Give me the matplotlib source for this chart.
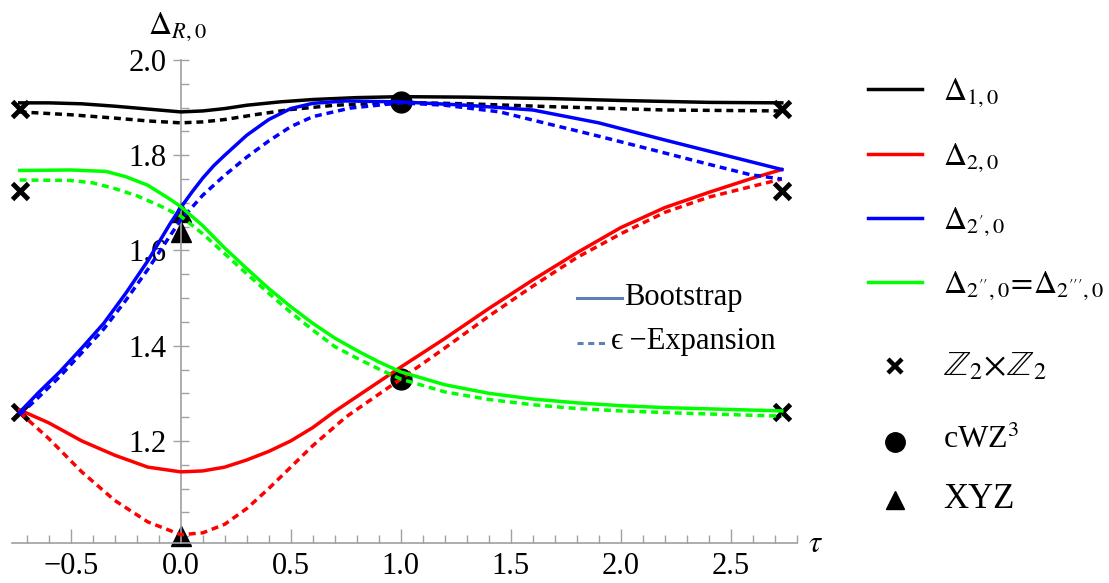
#!/usr/bin/env python3

import numpy as np
import matplotlib.pyplot as plt
from matplotlib.ticker import MultipleLocator, FixedLocator

plt.rcParams['font.family'] = ['Liberation Serif', 'DejaVu Serif']
plt.rcParams['mathtext.fontset'] = 'stix'

# Delta_{1,0}
tau_d1_bs = [-0.732, -0.6, -0.45, -0.3, -0.15, 0.0, 0.1, 0.2, 0.3, 0.45, 0.6, 0.8, 1.0, 1.3, 1.68, 2.0, 2.4, 2.732]
d1_bs = [1.910, 1.910, 1.908, 1.903, 1.897, 1.891, 1.893, 1.898, 1.905, 1.912, 1.917, 1.921, 1.923, 1.922, 1.919, 1.915, 1.911, 1.910]
tau_d1_ep = [-0.732, -0.5, -0.3, -0.15, 0.0, 0.1, 0.2, 0.35, 0.5, 0.7, 1.0, 1.3, 1.68, 2.2, 2.732]
d1_ep = [1.891, 1.885, 1.878, 1.872, 1.868, 1.870, 1.875, 1.886, 1.896, 1.905, 1.911, 1.908, 1.902, 1.895, 1.893]

# Delta_{2,0}
tau_d2_bs = [-0.732, -0.6, -0.45, -0.3, -0.15, 0.0, 0.1, 0.2, 0.3, 0.4, 0.5, 0.6, 0.7, 0.8, 0.9, 1.0,
             1.2, 1.4, 1.6, 1.8, 2.0, 2.2, 2.4, 2.6, 2.732]
d2_bs = [1.265, 1.238, 1.200, 1.170, 1.145, 1.135, 1.137, 1.145, 1.160, 1.178, 1.200, 1.228, 1.262, 1.293, 1.324, 1.355,
         1.415, 1.478, 1.538, 1.595, 1.648, 1.690, 1.722, 1.752, 1.770]
tau_d2_ep = [-0.732, -0.6, -0.45, -0.3, -0.15, 0.0, 0.1, 0.2, 0.3, 0.4, 0.5, 0.6, 0.75, 1.0,
             1.2, 1.4, 1.6, 1.8, 2.0, 2.2, 2.4, 2.6, 2.732]
d2_ep = [1.260, 1.205, 1.135, 1.075, 1.030, 1.003, 1.007, 1.025, 1.058, 1.100, 1.145, 1.190, 1.250, 1.330,
         1.395, 1.462, 1.525, 1.585, 1.635, 1.680, 1.712, 1.735, 1.750]

# Delta_{2',0}
tau_d2p_bs = [-0.732, -0.65, -0.55, -0.45, -0.35, -0.25, -0.15, -0.05, 0.0, 0.05, 0.1, 0.15, 0.2, 0.3, 0.4,
              0.5, 0.6, 0.75, 1.0, 1.3, 1.6, 1.9, 2.2, 2.5, 2.732]
d2p_bs = [1.260, 1.300, 1.345, 1.395, 1.447, 1.510, 1.578, 1.655, 1.690, 1.722, 1.752, 1.778, 1.800, 1.842, 1.875,
          1.898, 1.909, 1.914, 1.912, 1.905, 1.895, 1.868, 1.832, 1.797, 1.770]
tau_d2p_ep = [-0.732, -0.65, -0.55, -0.45, -0.35, -0.25, -0.15, -0.05, 0.0, 0.1, 0.2, 0.3, 0.4, 0.5, 0.6,
              0.77, 1.0, 1.2, 1.45, 1.66, 1.9, 2.13, 2.4, 2.59, 2.732]
d2p_ep = [1.255, 1.290, 1.335, 1.385, 1.435, 1.495, 1.560, 1.630, 1.664, 1.716, 1.758, 1.796, 1.830, 1.860, 1.881,
          1.899, 1.910, 1.905, 1.891, 1.867, 1.840, 1.813, 1.781, 1.759, 1.750]

# Delta_{2'',0} = Delta_{2''',0}
tau_d2pp_bs = [-0.732, -0.5, -0.34, -0.25, -0.15, -0.05, 0.0, 0.1, 0.2, 0.3, 0.4, 0.5, 0.6, 0.7, 0.8, 0.9,
               1.0, 1.2, 1.4, 1.6, 1.8, 2.0, 2.2, 2.5, 2.732]
d2pp_bs = [1.768, 1.769, 1.766, 1.755, 1.737, 1.708, 1.692, 1.652, 1.605, 1.562, 1.520, 1.482, 1.447, 1.416, 1.390, 1.366,
           1.345, 1.318, 1.300, 1.288, 1.280, 1.274, 1.270, 1.266, 1.263]
tau_d2pp_ep = [-0.732, -0.5, -0.4, -0.3, -0.2, -0.1, 0.0, 0.1, 0.2, 0.3, 0.4, 0.5, 0.6, 0.7, 0.8, 0.9,
               1.0, 1.2, 1.4, 1.6, 1.8, 2.0, 2.3, 2.732]
d2pp_ep = [1.748, 1.747, 1.742, 1.730, 1.715, 1.695, 1.672, 1.635, 1.593, 1.551, 1.510, 1.470, 1.433, 1.398, 1.374, 1.351,
           1.330, 1.303, 1.287, 1.276, 1.268, 1.263, 1.258, 1.252]

# special points
z2_tau = [-0.732, -0.732, -0.732, 2.732, 2.732, 2.732]
z2_val = [1.897, 1.724, 1.26, 1.897, 1.724, 1.26]
cwz_tau = [1.0, 1.0]
cwz_val = [1.912, 1.33]
xyz_tau = [0.0, 0.0, 0.0]
xyz_val = [1.681, 1.639, 1.0]

W, H = 1109, 583
fig = plt.figure(figsize=(W / 100, H / 100), dpi=100)
ax = fig.add_axes([12 / W, 1 - 543.3 / H, (797 - 12) / W, (543.3 - 60) / H])

lw = 2.5
dash = (2.0, 1.4)
series = [
    (tau_d1_bs, d1_bs, tau_d1_ep, d1_ep, '#000000'),
    (tau_d2_bs, d2_bs, tau_d2_ep, d2_ep, '#ff0000'),
    (tau_d2p_bs, d2p_bs, tau_d2p_ep, d2p_ep, '#0000ff'),
    (tau_d2pp_bs, d2pp_bs, tau_d2pp_ep, d2pp_ep, '#00ff00'),
]
for tb, yb, te, ye, c in series:
    ax.plot(tb, yb, color=c, lw=lw, zorder=3, clip_on=False)
    ax.plot(te, ye, color=c, lw=lw, ls=(0, dash), zorder=3, clip_on=False)

ax.plot(z2_tau, z2_val, 'x', color='k', ms=11, mew=3.5, zorder=2, clip_on=False)
ax.plot(cwz_tau, cwz_val, 'o', color='k', ms=15, zorder=2, clip_on=False)
ax.plot(xyz_tau, xyz_val, '^', color='k', ms=14, zorder=2, clip_on=False)

ax.set_xlim(-0.767, 2.801)
ax.set_ylim(0.985, 2.0)

gray = '#a0a0a0'
for s in ['top', 'right']:
    ax.spines[s].set_visible(False)
ax.spines['left'].set_position(('data', 0))
ax.spines['left'].set_color(gray)
ax.spines['bottom'].set_color(gray)
ax.spines['left'].set_linewidth(1.2)
ax.spines['bottom'].set_linewidth(1.2)

ax.xaxis.set_major_locator(FixedLocator([-0.5, 0.0, 0.5, 1.0, 1.5, 2.0, 2.5]))
ax.xaxis.set_minor_locator(MultipleLocator(0.1))
ax.yaxis.set_major_locator(FixedLocator([1.2, 1.4, 1.6, 1.8, 2.0]))
ax.yaxis.set_minor_locator(MultipleLocator(0.05))
ax.xaxis.set_major_formatter(plt.FuncFormatter(lambda v, p: f'{v:.1f}'.replace('-', '\u2212')))
ax.yaxis.set_major_formatter(plt.FuncFormatter(lambda v, p: f'{v:.1f}'))

ax.tick_params(axis='x', which='major', direction='in', length=10, width=1, color=gray,
               labelsize=22, pad=6)
ax.tick_params(axis='x', which='minor', direction='in', length=6, width=1, color=gray)
ax.tick_params(axis='y', which='major', direction='inout', length=12, width=1, color=gray,
               labelsize=22, pad=4)
ax.tick_params(axis='y', which='minor', direction='in', length=6, width=1, color=gray)

# overlay in pixel coordinates for labels and legends
ov = fig.add_axes([0, 0, 1, 1])
ov.set_xlim(0, W)
ov.set_ylim(H, 0)
ov.axis('off')

ov.text(148, 27, r'$\Delta_{R,0}$', fontsize=23, ha='left', va='center')
ov.text(815, 545, r'$\tau$', fontsize=22, ha='center', va='center')

labels = [r'$\Delta_{1,0}$', r'$\Delta_{2,0}$', r"$\Delta_{2',0}$",
          r"$\Delta_{2'',0}\!=\!\Delta_{2''',0}$"]
colors = ['#000000', '#ff0000', '#0000ff', '#00ff00']
rows = [89, 154, 218, 282]
for lab, c, y in zip(labels, colors, rows):
    ov.plot([868, 922], [y, y], color=c, lw=lw)
    ov.text(943, y + 4, lab, fontsize=23, ha='left', va='center')

ov.plot([895], [366], 'x', color='k', ms=10, mew=3.2)
ov.text(943, 367, r'$\mathbb{Z}_2\!\times\!\mathbb{Z}_2$', fontsize=25, ha='left', va='center')
ov.plot([895], [442], 'o', color='k', ms=14)
ov.text(943, 440, r'cWZ$^3$', fontsize=23, ha='left', va='center')
ov.plot([895], [500], '^', color='k', ms=13)
ov.text(943, 500, 'XYZ', fontsize=25, ha='left', va='center')

leg_c = '#5e81b5'
ov.plot([577, 622], [298, 298], color=leg_c, lw=2.2)
ov.text(624, 297, 'Bootstrap', fontsize=22, ha='left', va='center')
ov.plot([577, 608], [343, 343], color=leg_c, lw=2.2, ls=(0, (2, 1.5)))
ov.text(611, 342, '\u03f5\u2009\u2212Expansion', fontsize=22, ha='left', va='center')

fig.savefig('out.png', dpi=100)
